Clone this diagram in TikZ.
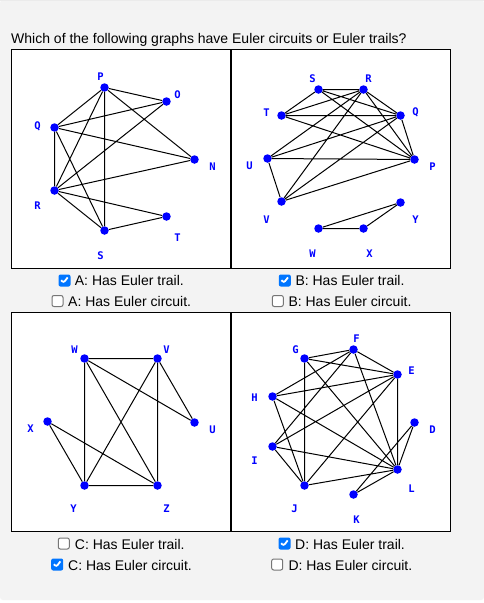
\documentclass[tikz,border=0pt]{standalone}
\usepackage{fontspec}
\setmainfont{Liberation Sans}
\newfontfamily\labfont{DejaVu Sans Mono}
\definecolor{pagebg}{HTML}{F3F3F3}
\definecolor{nodeblue}{HTML}{0000FF}
\definecolor{cbblue}{HTML}{0075FF}
\definecolor{cbgray}{HTML}{767676}
\begin{document}
\begin{tikzpicture}[x=1pt,y=-1pt,
  vert/.style={circle,fill=nodeblue,inner sep=0pt,minimum size=8.5pt},
  lab/.style={text=nodeblue,font=\labfont\bfseries\fontsize{10.5}{10.5}\selectfont,inner sep=0pt},
  edge/.style={draw=black,line width=1pt},
  panel/.style={draw=black,line width=1pt,fill=white},
  opt/.style={font=\fontsize{14}{16}\selectfont,anchor=base west,inner sep=0pt,text=black},
  cbon/.style={rectangle,rounded corners=2pt,fill=cbblue,minimum size=12pt,inner sep=0pt,
    path picture={\draw[white,line width=1.8pt] ([xshift=-3.3pt,yshift=0.3pt]path picture bounding box.center) -- ++(2.4pt,-2.5pt) -- ++(4.1pt,5.3pt);}},
  cboff/.style={rectangle,rounded corners=2pt,fill=white,draw=cbgray,line width=1pt,minimum size=11pt,inner sep=0pt}
]
% page
\fill[white] (0,0) rectangle (484,603);
\fill[pagebg,rounded corners=3pt] (0,0) rectangle (484,600);
\fill[black!8] (0,0) rectangle (484,1.2);
\node[anchor=base west,inner sep=0pt,font=\fontsize{14}{16}\selectfont] (title) at (11,43.5) {Which of the following graphs have Euler circuits or Euler trails?};
% panels
\draw[panel] (11.5,49.5) rectangle (230.5,268.5);
\draw[panel] (231.5,49.5) rectangle (450.5,268.5);
\draw[panel] (11.5,312.5) rectangle (230.5,531.5);
\draw[panel] (231.5,312.5) rectangle (450.5,531.5);

\begin{scope}[shift={(0.5,0.5)}]
% ---------------- Panel A
\node[vert] (aP) at (104,87) {};
\node[vert] (aO) at (166,101) {};
\node[vert] (aN) at (194,159) {};
\node[vert] (aQ) at (54,127) {};
\node[vert] (aR) at (54,190) {};
\node[vert] (aS) at (104,230) {};
\node[vert] (aT) at (166,216) {};
\node[lab] (laP) at (100,76) {P};
\node[lab] (laO) at (177,94) {O};
\node[lab] (laN) at (212,166) {N};
\node[lab] (laQ) at (37,126) {Q};
\node[lab] (laR) at (37,205) {R};
\node[lab] (laS) at (100,255) {S};
\node[lab] (laT) at (177,237) {T};
\draw[edge] (aP)--(aO) (aP)--(aQ) (aP)--(aR) (aP)--(aS) (aP)--(aN)
  (aO)--(aQ) (aO)--(aR) (aQ)--(aN) (aQ)--(aR) (aQ)--(aS)
  (aR)--(aN) (aR)--(aT) (aR)--(aS) (aS)--(aT);

% ---------------- Panel B
\node[vert] (bS) at (318,89) {};
\node[vert] (bR) at (363,89) {};
\node[vert] (bT) at (281,115) {};
\node[vert] (bQ) at (400,115) {};
\node[vert] (bU) at (267,158) {};
\node[vert] (bP) at (414,159) {};
\node[vert] (bV) at (281,201) {};
\node[vert] (bY) at (400,202) {};
\node[vert] (bW) at (318,228) {};
\node[vert] (bX) at (363,228) {};
\node[lab] (lbS) at (312,78) {S};
\node[lab] (lbR) at (368,78) {R};
\node[lab] (lbT) at (266,112) {T};
\node[lab] (lbQ) at (415,112) {Q};
\node[lab] (lbU) at (249,165) {U};
\node[lab] (lbP) at (432,166) {P};
\node[lab] (lbV) at (266,219) {V};
\node[lab] (lbY) at (415,219) {Y};
\node[lab] (lbW) at (312,253) {W};
\node[lab] (lbX) at (369,253) {X};
\draw[edge] (bS)--(bR) (bS)--(bT) (bS)--(bQ) (bS)--(bP)
  (bR)--(bT) (bR)--(bQ) (bR)--(bP) (bR)--(bU) (bR)--(bV)
  (bT)--(bQ) (bT)--(bP)
  (bQ)--(bU) (bQ)--(bV) (bQ)--(bP)
  (bU)--(bP) (bU)--(bV) (bV)--(bP)
  (bW)--(bX) (bW)--(bY) (bX)--(bY);

% ---------------- Panel C
\node[vert] (cW) at (84,358) {};
\node[vert] (cV) at (157,358) {};
\node[vert] (cX) at (47,421) {};
\node[vert] (cU) at (194,422) {};
\node[vert] (cY) at (84,485) {};
\node[vert] (cZ) at (157,485) {};
\node[lab] (lcW) at (74,349) {W};
\node[lab] (lcV) at (166,349) {V};
\node[lab] (lcX) at (30,428) {X};
\node[lab] (lcU) at (212,429) {U};
\node[lab] (lcY) at (73,508) {Y};
\node[lab] (lcZ) at (166,508) {Z};
\draw[edge] (cW)--(cV) (cW)--(cY) (cW)--(cZ) (cW)--(cU)
  (cV)--(cZ) (cV)--(cY) (cV)--(cU)
  (cX)--(cY) (cX)--(cZ) (cY)--(cZ);

% ---------------- Panel D
\node[vert] (dF) at (353,349) {};
\node[vert] (dG) at (304,358) {};
\node[vert] (dE) at (397,374) {};
\node[vert] (dH) at (272,396) {};
\node[vert] (dD) at (414,422) {};
\node[vert] (dI) at (272,446) {};
\node[vert] (dL) at (397,469) {};
\node[vert] (dJ) at (304,485) {};
\node[vert] (dK) at (353,494) {};
\node[lab] (ldF) at (356,338) {F};
\node[lab] (ldG) at (295,349) {G};
\node[lab] (ldE) at (411,370) {E};
\node[lab] (ldH) at (254,397) {H};
\node[lab] (ldD) at (432,429) {D};
\node[lab] (ldI) at (254,460) {I};
\node[lab] (ldL) at (411,488) {L};
\node[lab] (ldJ) at (294,508) {J};
\node[lab] (ldK) at (356,519) {K};
\draw[edge] (dG)--(dF) (dG)--(dE) (dG)--(dJ) (dG)--(dL)
  (dF)--(dE) (dF)--(dH) (dF)--(dI) (dF)--(dL)
  (dE)--(dH) (dE)--(dI) (dE)--(dJ) (dE)--(dL)
  (dH)--(dJ) (dH)--(dL)
  (dI)--(dL) (dI)--(dJ) (dJ)--(dL)
  (dD)--(dL) (dD)--(dK) (dK)--(dL);
\end{scope}

% ---------------- options
\node[cbon] (cbA1) at (64.5,280.5) {};
\node[opt] (tA1) at (74.7,285.7) {A: Has Euler trail.};
\node[cboff] (cbA2) at (57.5,301) {};
\node[opt] (tA2) at (68,306.2) {A: Has Euler circuit.};
\node[cbon] (cbB1) at (284.8,280.5) {};
\node[opt] (tB1) at (295.3,285.7) {B: Has Euler trail.};
\node[cboff] (cbB2) at (277.8,301) {};
\node[opt] (tB2) at (288.3,306.2) {B: Has Euler circuit.};
\node[cboff] (cbC1) at (63.8,543.5) {};
\node[opt] (tC1) at (74.7,549) {C: Has Euler trail.};
\node[cbon] (cbC2) at (57.2,564.5) {};
\node[opt] (tC2) at (68,570) {C: Has Euler circuit.};
\node[cbon] (cbD1) at (284.5,543.5) {};
\node[opt] (tD1) at (295,549) {D: Has Euler trail.};
\node[cboff] (cbD2) at (277.2,564.5) {};
\node[opt] (tD2) at (288.3,570) {D: Has Euler circuit.};
\end{tikzpicture}
\end{document}
